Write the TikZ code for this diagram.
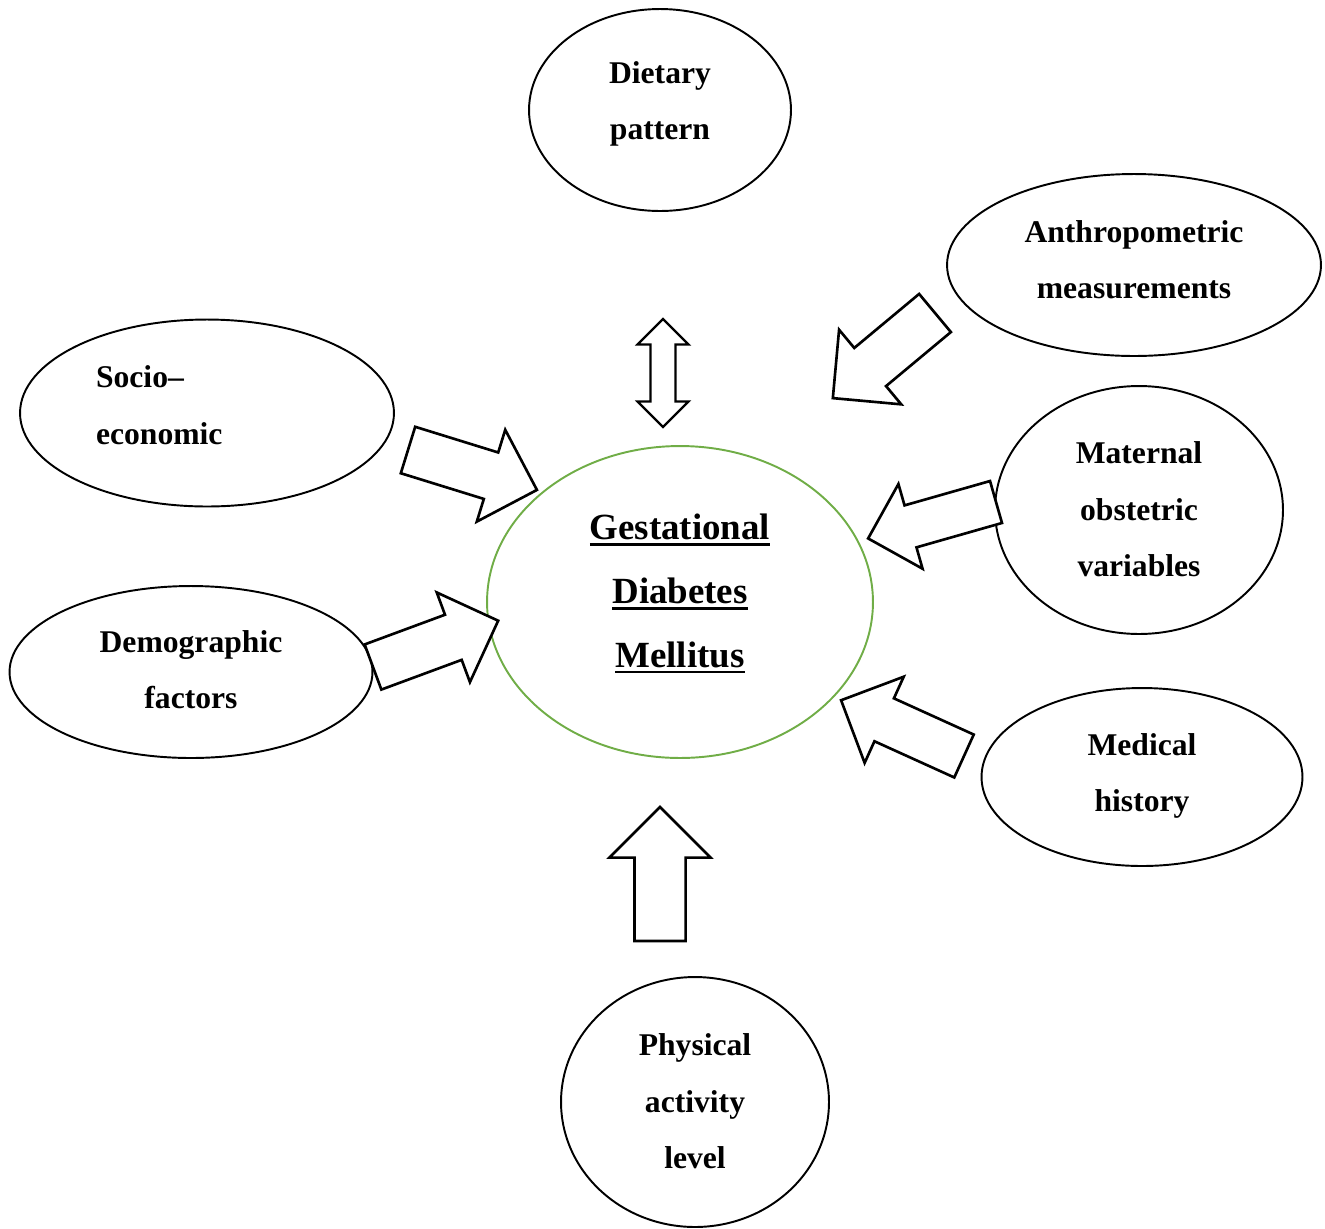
\documentclass[tikz,border=0pt]{standalone}
\usepackage{fontspec}
\setmainfont{Liberation Serif}
\usetikzlibrary{shapes.geometric,shapes.arrows}
\definecolor{gdmgreen}{HTML}{70AD47}
\newcommand{\gdmline}[1]{\setbox0=\hbox{#1}\rlap{\rule[-3.5pt]{\wd0}{1.5pt}}\box0}

\begin{document}
\begin{tikzpicture}[x=0.02cm, y=-0.02cm,
    factor/.style={ellipse, draw, line width=1.1pt, inner sep=0pt, align=center,
        font=\fontsize{18}{32}\selectfont\bfseries},
    blockarrow/.style={single arrow, draw, fill=white, line width=1.5pt, inner xsep=0pt,
        inner ysep=0.46cm, outer sep=0pt, minimum height=2.68cm,
        single arrow head extend=0.475cm, single arrow tip angle=90, anchor=tail},
]

\useasboundingbox (0,0) rectangle (1325,1228);

\node [factor, minimum width=5.24cm, minimum height=4.04cm, text depth=11pt] (diet) at (660,110) {Dietary\\pattern};
\node [factor, minimum width=7.48cm, minimum height=3.64cm, text depth=6pt] (anthro) at (1134,265) {Anthropometric\\measurements};
\node [factor, minimum width=7.48cm, minimum height=3.74cm, text depth=41pt, text width=4.44cm, align=left] (socio) at (207,413) {Socio–\\economic};
\node [factor, minimum width=5.76cm, minimum height=4.96cm, text depth=1pt] (maternal) at (1139,510) {Maternal\\obstetric\\variables};
\node [factor, minimum width=7.26cm, minimum height=3.44cm, text depth=3pt] (demo) at (191,672) {Demographic\\factors};
\node [factor, minimum width=6.42cm, minimum height=3.56cm, text depth=5pt] (medical) at (1142,777) {Medical\\history};
\node [factor, minimum width=5.36cm, minimum height=5cm, text depth=1pt] (physical) at (695,1102) {Physical\\activity\\level};

\node [factor, draw=gdmgreen, minimum width=7.72cm, minimum height=6.24cm, text depth=13pt,
    font=\fontsize{21}{36.4}\selectfont\bfseries] (gdm) at (680,602)
    {\gdmline{Gestational}\\\gdmline{Diabetes}\\\gdmline{Mellitus}};

% block arrows towards the centre
\node [blockarrow, rotate=219.8, minimum height=2.66cm, inner ysep=0.47cm] (aAnthro) at (935,313) {};
\node [blockarrow, rotate=-17.2, minimum height=2.70cm] (aSocio) at (408,450) {};
\node [blockarrow, rotate=195.9, minimum height=2.66cm, inner ysep=0.41cm, single arrow head extend=0.445cm] (aMaternal) at (996,502) {};
\node [blockarrow, rotate=155.6, minimum height=2.70cm, inner ysep=0.445cm] (aMedical) at (964,756) {};
\node [blockarrow, rotate=20.3, minimum height=2.67cm, inner ysep=0.455cm] (aDemo) at (373,667) {};
\node [blockarrow, rotate=90, inner ysep=0.485cm, single arrow head extend=0.5cm] (aPhysical) at (660,941) {};
\node [double arrow, draw, fill=white, line width=1.3pt, inner xsep=0pt, inner ysep=0.227cm,
    outer sep=0pt, rotate=90, minimum height=2.16cm, double arrow head extend=0.26cm,
    double arrow tip angle=90] (aDiet) at (663,373) {};

\end{tikzpicture}
\end{document}
